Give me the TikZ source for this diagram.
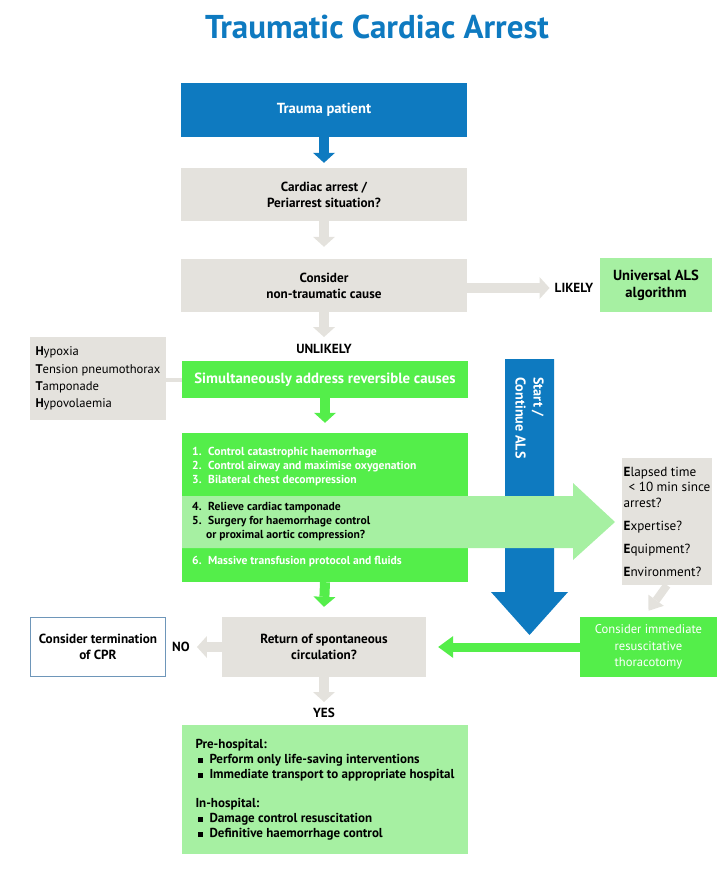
\documentclass[tikz,border=0pt]{standalone}
\usepackage{fontspec}
\setmainfont{PT Sans}
\usetikzlibrary{arrows.meta}
\definecolor{tblue}{RGB}{14,122,192}
\definecolor{tgrey}{RGB}{228,226,221}
\definecolor{tgreen}{RGB}{84,238,74}
\definecolor{tlight}{RGB}{166,240,162}
\definecolor{tborder}{RGB}{110,150,185}
\newcommand{\tcabul}{\makebox[14pt][l]{\hspace{2pt}\rule[0.5pt]{5pt}{5pt}}}
\begin{document}
\begin{tikzpicture}[x=1pt,y=-1pt,
  box/.style={rectangle, inner sep=0pt, align=center, minimum width=286pt},
  bfs/.style={font=\fontsize{13.2}{16}\selectfont\bfseries},
  greybox/.style={box, fill=tgrey, bfs},
  lbl/.style={inner sep=0pt, bfs},
  itemw/.style={anchor=west, inner sep=0pt, font=\fontsize{11.6}{13}\selectfont\bfseries},
  conn/.style={line width=10pt, -{Triangle[width=22pt,length=10pt,line width=0pt]}},
  greyarr/.style={conn, draw=tgrey},
  greenarr/.style={conn, draw=tgreen},
  bluearr/.style={conn, draw=tblue},
]
\useasboundingbox (0,0) rectangle (721,875);

% title
\node[font=\fontsize{33}{34}\selectfont\bfseries, text=tblue, inner sep=0pt] (title) at (377,27) {Traumatic Cardiac Arrest};

% main column
\node[box, fill=tblue, text=white, minimum height=54pt, font=\fontsize{14.6}{16}\selectfont\bfseries] (trauma) at (324,110) {Trauma patient};
\node[greybox, minimum height=53pt] (cardiac) at (324,194.5) {Cardiac arrest /\\Periarrest situation?};
\node[greybox, minimum height=53pt] (consider) at (324,285.5) {Consider\\non-traumatic cause};
\node[lbl] (likely) at (574,288) {LIKELY};
\node[box, fill=tlight, minimum width=112pt, minimum height=54pt, font=\fontsize{14.6}{17}\selectfont\bfseries] (univ) at (656,285) {Universal ALS\\algorithm};
\node[lbl] (unlikely) at (324,349) {UNLIKELY};
\node[box, fill=tgreen, text=white, minimum height=37pt, font=\fontsize{14.8}{16}\selectfont\bfseries] (simul) at (325,379.5) {Simultaneously address reversible causes};
\node[rectangle, fill=tgrey, minimum width=136pt, minimum height=83pt, inner sep=0pt, align=left, font=\fontsize{12.6}{17.3}\selectfont] (htth) at (98,378.5) {\textbf{H}ypoxia\\\textbf{T}ension pneumothorax\\\textbf{T}amponade\\\textbf{H}ypovolaemia};

% big green box
\node[box, fill=tgreen, minimum height=149pt] (big) at (325,507.5) {};

% blue ALS arrow
\fill[tblue] (505,359) -- (554,359) -- (554,592) -- (568,592) -- (529.5,635) -- (491,592) -- (505,592) -- cycle;
\node[rotate=-90, align=left, text=white, inner sep=0pt, font=\fontsize{14.2}{18}\selectfont\bfseries] (als) at (529.5,418) {Start /\\Continue ALS};

% light green band arrow
\fill[tlight] (182,496) -- (573,496) -- (573,483) -- (615,522) -- (573,560) -- (573,548) -- (182,548) -- cycle;

\node[itemw, text=white] (i1) at (192,453) {\makebox[16pt][l]{1.}Control catastrophic haemorrhage};
\node[itemw, text=white] (i2) at (192,467) {\makebox[16pt][l]{2.}Control airway and maximise oxygenation};
\node[itemw, text=white] (i3) at (192,481) {\makebox[16pt][l]{3.}Bilateral chest decompression};
\node[itemw] (i4) at (192,508) {\makebox[16pt][l]{4.}Relieve cardiac tamponade};
\node[itemw] (i5) at (192,522) {\makebox[16pt][l]{5.}Surgery for haemorrhage control};
\node[itemw] (i5b) at (206,535.5) {or proximal aortic compression?};
\node[itemw, text=white] (i6) at (192,562) {\makebox[16pt][l]{6.}Massive transfusion protocol and fluids};

% E box
\node[rectangle, fill=tgrey, minimum width=90pt, minimum height=127pt, inner sep=0pt, align=left, font=\fontsize{13.2}{15.5}\selectfont] (ebox) at (667,521.5) {\textbf{E}lapsed time\\\hspace*{5pt}< 10 min since\\arrest?\\[7.5pt]\textbf{E}xpertise?\\[7.5pt]\textbf{E}quipment?\\[7.5pt]\textbf{E}nvironment?};

\node[rectangle, fill=tgreen, text=white, minimum width=137pt, minimum height=60pt, inner sep=0pt, align=center, font=\fontsize{12.6}{16.5}\selectfont] (thor) at (648.5,647) {Consider immediate\\resuscitative\\thoracotomy};

\node[greybox, minimum width=204pt, minimum height=60pt] (rosc) at (324,647) {Return of spontaneous\\circulation?};
\node[lbl] (no) at (181,647) {NO};
\node[box, draw=tborder, line width=0.8pt, fill=white, minimum width=135pt, minimum height=59pt, bfs] (term) at (98,647) {Consider termination\\of CPR};
\node[lbl] (yes) at (324,713) {YES};

\node[box, fill=tlight, minimum height=129pt, align=left, font=\fontsize{13}{15}\selectfont\bfseries] (final) at (325,789.5) {Pre-hospital:\\\tcabul Perform only life-saving interventions\\\tcabul Immediate transport to appropriate hospital\\[14pt]In-hospital:\\\tcabul Damage control resuscitation\\\tcabul Definitive haemorrhage control};

% connectors
\draw[bluearr] (trauma.south) -- ([yshift=5pt]cardiac.north);
\draw[greyarr] (cardiac.south) -- ([yshift=12pt]consider.north);
\draw[greyarr] (consider.east |- likely.west) -- ([xshift=-5pt]likely.west);
\draw[greyarr] (consider.south) -- ([yshift=7pt]unlikely.north);
\draw[tgrey, line width=4pt] (htth.east |- simul.west) -- (simul.west);
\draw[greenarr] (simul.south) -- ([yshift=10pt]big.north);
\draw[greenarr] (big.south) -- ([yshift=10pt]rosc.north);
\draw[greyarr] (rosc.west) -- ([xshift=7pt]no.east);
\draw[greyarr] (rosc.south) -- ([yshift=6pt]yes.north);
\draw[greyarr, line width=8pt, -{Triangle[width=19pt,length=13pt,line width=0pt]}] (ebox.south) -- ([yshift=6pt]thor.north);
\draw[greenarr, line width=9pt, -{Triangle[width=22pt,length=15pt,line width=0pt]}] (thor.west) -- ([xshift=12pt]rosc.east);
\end{tikzpicture}
\end{document}
